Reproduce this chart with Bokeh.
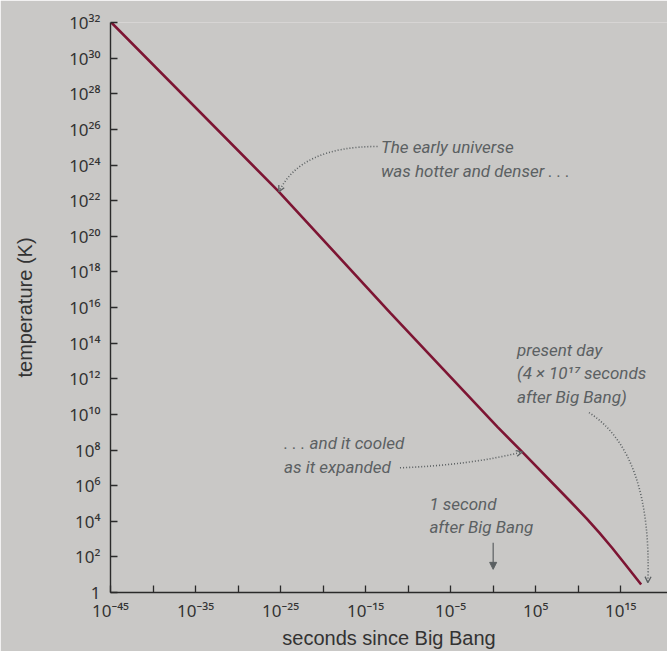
from bokeh.plotting import figure
from bokeh.models import Range1d, FixedTicker, CustomJSTickFormatter, Arrow, OpenHead, NormalHead
from bokeh.core.properties import value
from bokeh.embed import file_html
from bokeh.resources import INLINE

# Temperature of the universe vs time (powers of ten)
time_exp = [-44.9, -25.3, -12.1, -5.8, 0.5, 3.5, 9.0, 11.0, 12.5, 14.0, 15.5, 17.4]
temp_exp = [32.0, 22.55, 15.7, 12.5, 9.3, 7.85, 5.15, 4.15, 3.35, 2.5, 1.6, 0.45]

y_tick_exp = [0, 2, 4, 6, 8, 10, 12, 14, 16, 18, 20, 22, 24, 26, 28, 30, 32]
y_tick_labels = ["1", "10²", "10⁴", "10⁶", "10⁸", "10¹⁰", "10¹²", "10¹⁴", "10¹⁶",
                 "10¹⁸", "10²⁰", "10²²", "10²⁴", "10²⁶", "10²⁸", "10³⁰", "10³²"]
x_tick_exp = [-45, -40, -35, -30, -25, -20, -15, -10, -5, 0, 5, 10, 15]
x_tick_labels = ["10⁻⁴⁵", "", "10⁻³⁵", "", "10⁻²⁵", "", "10⁻¹⁵", "", "10⁻⁵", "", "10⁵", "", "10¹⁵"]

# annotation lines (positions as powers of ten)
note_x_exp = [-13.2, -13.2, -24.6, -24.6, -7.5, -7.5, 2.8, 2.8, 2.8]
note_y_exp = [25.55, 24.22, 8.95, 7.62, 5.55, 4.22, 14.2, 12.87, 11.54]
note_text = ["The early universe", "was hotter and denser . . .",
             ". . . and it cooled", "as it expanded",
             "1 second", "after Big Bang",
             "present day", "(4 × 10¹⁷ seconds", "after Big Bang)"]

BG = "#c9c8c6"
INK = "#2a2a2a"
NOTE = "#5b6062"
NOTE_FONT = "Roboto"
TICK_FONT = "Noto Sans"

p = figure(width=667, height=651, x_axis_type="log", y_axis_type="log",
           x_range=Range1d(1e-45, 10 ** 20.5), y_range=Range1d(1, 1e32),
           output_backend="svg", toolbar_location=None,
           min_border_left=110, min_border_top=22, min_border_bottom=59, min_border_right=0)
p.background_fill_color = BG
p.border_fill_color = BG
p.outline_line_color = None
p.grid.visible = False

for ax in (p.xaxis[0], p.yaxis[0]):
    ax.axis_line_color = INK
    ax.axis_line_width = 1.4
    ax.major_tick_line_color = INK
    ax.major_tick_line_width = 1.3
    ax.major_tick_in = 7
    ax.major_tick_out = 0
    ax.minor_tick_line_color = None
    ax.major_label_text_font = TICK_FONT
    ax.major_label_text_font_size = "17px"
    ax.major_label_text_color = "#333333"
    ax.axis_label_text_font = "Liberation Sans"
    ax.axis_label_text_font_style = "normal"
    ax.axis_label_text_font_size = "20px"
    ax.axis_label_text_color = "#333333"

p.yaxis.ticker = FixedTicker(ticks=[10.0 ** e for e in y_tick_exp])
p.xaxis.ticker = FixedTicker(ticks=[10.0 ** e for e in x_tick_exp])
fmt_code = """
const e = Math.round(Math.log10(tick));
const i = exps.indexOf(e);
return i >= 0 ? labels[i] : "";
"""
p.yaxis.formatter = CustomJSTickFormatter(args=dict(exps=y_tick_exp, labels=y_tick_labels), code=fmt_code)
p.xaxis.formatter = CustomJSTickFormatter(args=dict(exps=x_tick_exp, labels=x_tick_labels), code=fmt_code)
p.yaxis.major_label_standoff = 10
p.xaxis.major_label_standoff = 6

p.yaxis.axis_label = "temperature (K)"
p.yaxis.axis_label_standoff = 30
p.xaxis.axis_label = "seconds since Big Bang"
p.xaxis.axis_label_standoff = 2

# the curve
p.line([10.0 ** e for e in time_exp], [10.0 ** e for e in temp_exp],
       line_color="#7d1533", line_width=2.6)

# annotation text
p.text(x=[10.0 ** e for e in note_x_exp], y=[10.0 ** e for e in note_y_exp], text=note_text,
       text_font=value(NOTE_FONT), text_font_style="italic", text_font_size="17px",
       text_color=NOTE, text_align="left", text_baseline="top")

# dotted pointers
p.quadratic(x0=[10 ** -13.6, 10 ** -10.96, 10 ** 11.27],
            y0=[10 ** 25.04, 10 ** 7.0, 10 ** 10.1],
            cx=[10 ** -22.6, 10 ** -2.73, 10 ** 18.7],
            cy=[10 ** 25.04, 10 ** 7.15, 10 ** 7.82],
            x1=[10 ** -25.2, 10 ** 3.42, 10 ** 18.19],
            y1=[10 ** 22.5, 10 ** 7.89, 10 ** 0.55],
            line_color=NOTE, line_width=1.6, line_dash="1 2")

for (sx, sy, ex, ey) in [(-22.6, 25.04, -25.2, 22.5), (-2.73, 7.15, 3.42, 7.89), (18.7, 7.82, 18.19, 0.55)]:
    p.add_layout(Arrow(x_start=10 ** sx, y_start=10 ** sy, x_end=10 ** ex, y_end=10 ** ey,
                       line_alpha=0,
                       end=OpenHead(size=6, line_color=NOTE, line_width=1.3)))

# "1 second" pointer
p.add_layout(Arrow(x_start=1, y_start=10 ** 2.8, x_end=1, y_end=10 ** 1.3,
                   line_color=NOTE, line_width=1.2,
                   end=NormalHead(size=7, fill_color=NOTE, line_color=NOTE)))

open("out.html", "w").write(file_html(p, INLINE))
